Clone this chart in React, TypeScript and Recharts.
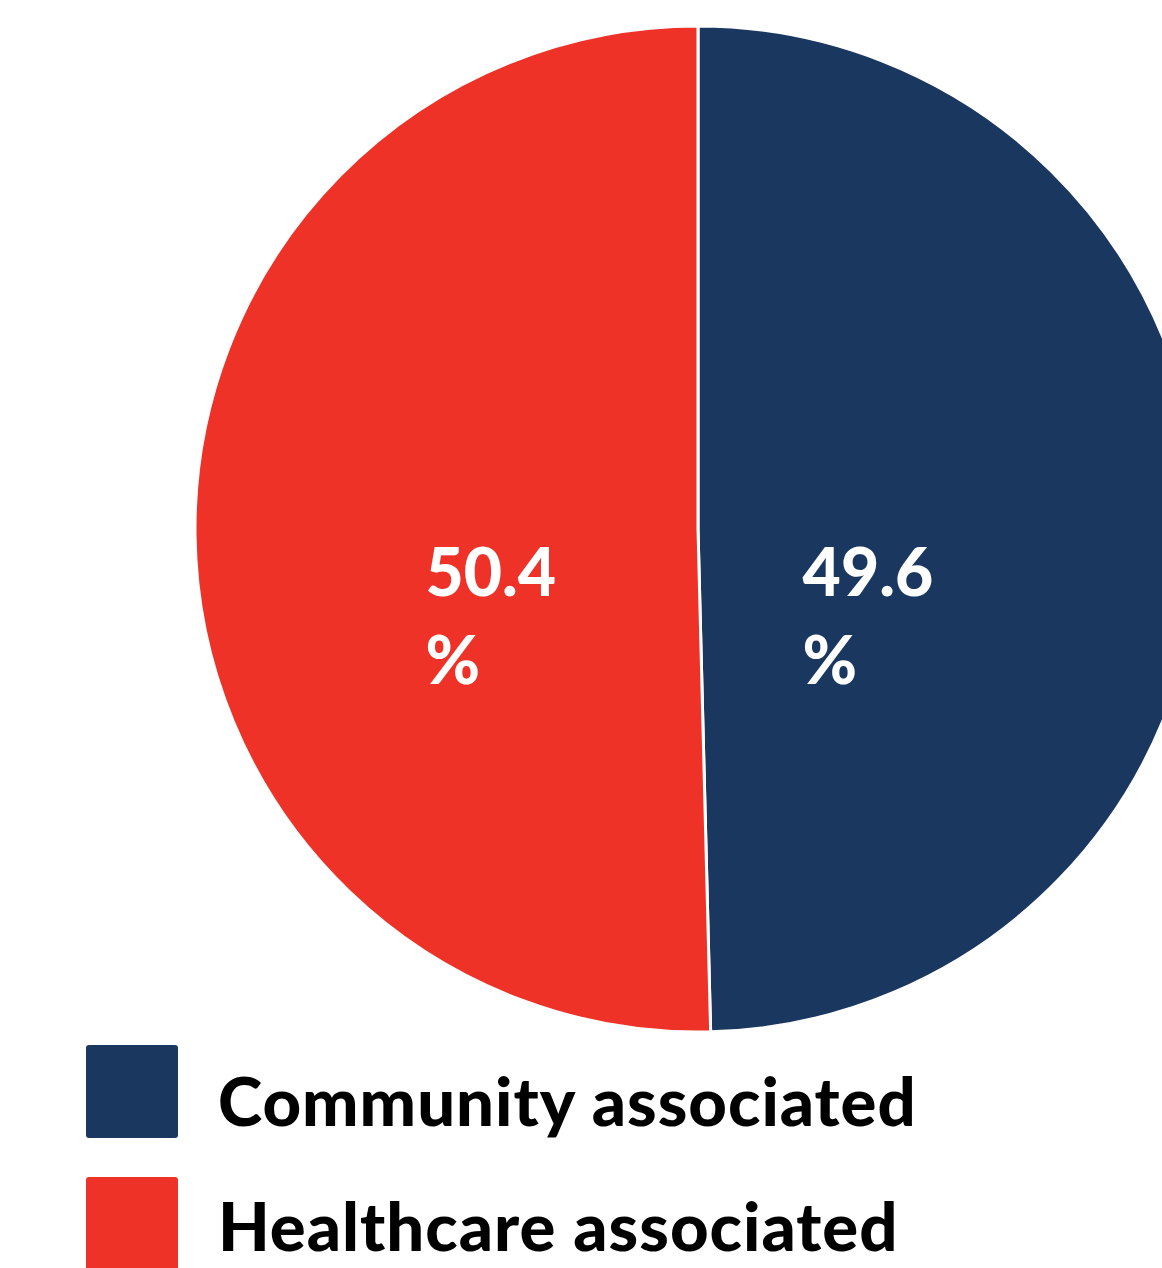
import { Legend, Pie, PieChart, Cell } from 'recharts'

const categorias = ['Community associated', 'Healthcare associated']
const percentuais = [49.6, 50.4]
const cores = ['#1A3760', '#EE3228']

const dados = categorias.map((nome, i) => ({ nome, valor: percentuais[i] }))

const RAD = Math.PI / 180

const Rotulo = (props: any) => {
  const { cx, cy, midAngle, outerRadius, value } = props
  const x = cx + Math.cos(-midAngle * RAD) * outerRadius * 0.375 - 84
  return (
    <text
      x={x}
      y={cy + 67}
      fill="#fff"
      fontFamily="Lato, sans-serif"
      fontWeight={900}
      fontSize={66}
      textAnchor="start"
    >
      <tspan x={x}>{value.toFixed(1)}</tspan>
      <tspan x={x} dy={88}>%</tspan>
    </text>
  )
}

const Legenda = () => (
  <div>
    {categorias.map((nome, i) => (
      <div
        key={nome}
        style={{ position: 'absolute', left: 0, top: i * 132, width: 1000, height: 90 }}
      >
        <div
          style={{
            position: 'absolute',
            left: 86,
            top: 0,
            width: 92,
            height: 93,
            background: cores[i],
            borderRadius: 3
          }}
        />
        <div
          style={{
            position: 'absolute',
            left: 218,
            top: i === 0 ? 22 : 15,
            fontFamily: 'Lato, sans-serif',
            fontWeight: 900,
            fontSize: 67,
            letterSpacing: 1,
            lineHeight: '66px',
            color: '#000',
            whiteSpace: 'nowrap'
          }}
        >
          {nome}
        </div>
      </div>
    ))}
  </div>
)

export default function App() {
  return (
    <div style={{ position: 'absolute', left: 0, top: 0, width: 1162, height: 1268, overflow: 'hidden', background: '#fff' }}>
      <PieChart width={1162} height={1268} margin={{ top: 0, right: 0, bottom: 0, left: 0 }}>
        <Pie
          data={dados}
          dataKey="valor"
          nameKey="nome"
          cx={698}
          cy={529}
          outerRadius={503}
          startAngle={90}
          endAngle={-270}
          stroke="#fff"
          strokeWidth={3}
          label={Rotulo}
          labelLine={false}
          isAnimationActive={false}
        >
          {dados.map((d, i) => (
            <Cell key={d.nome} fill={cores[i]} />
          ))}
        </Pie>
        <Legend
          content={<Legenda />}
          wrapperStyle={{ position: 'absolute', left: 0, top: 1045, width: 1162, height: 223 }}
        />
      </PieChart>
    </div>
  )
}
